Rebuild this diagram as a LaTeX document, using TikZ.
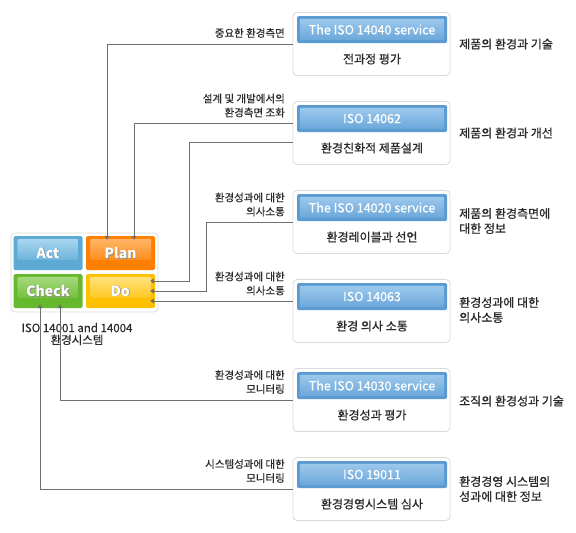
\documentclass[tikz,border=0pt]{standalone}
\usepackage{fontspec}
\setmainfont{Noto Sans CJK KR}
\newfontfamily\medfont{Noto Sans CJK KR}[FakeBold=0.8]
\newfontfamily\lightmed{Noto Sans CJK KR}[FakeBold=0.4]
\usetikzlibrary{arrows.meta,calc}
\definecolor{conn}{HTML}{707070}
\definecolor{boxline}{HTML}{DADADA}
\definecolor{barblue}{HTML}{5B9BD1}
\definecolor{bartop}{HTML}{9CC8EC}
\definecolor{barbot}{HTML}{6AA7DA}
\definecolor{txt}{HTML}{2A2A2A}
\definecolor{actc}{HTML}{5CA9D3}\definecolor{acttop}{HTML}{A9D5EE}\definecolor{actbot}{HTML}{6DB5DD}
\definecolor{planc}{HTML}{FF7F00}\definecolor{plantop}{HTML}{FFB566}\definecolor{planbot}{HTML}{FF8E1E}
\definecolor{checkc}{HTML}{66B82E}\definecolor{checktop}{HTML}{A6D97E}\definecolor{checkbot}{HTML}{74C03E}
\definecolor{doc}{HTML}{FFC000}\definecolor{dotop}{HTML}{FFE27E}\definecolor{dobot}{HTML}{FFC922}
\tikzset{
  svcbox/.style={draw=boxline,fill=white,rounded corners=4pt,minimum width=157pt,minimum height=63pt,line width=0.8pt,inner sep=0pt},
  svcbar/.style={fill=barblue,rounded corners=1.5pt,minimum width=150pt,minimum height=27pt,inner sep=0pt},
  bartext/.style={text=white,font=\lightmed\fontsize{12.5}{13}\selectfont},
  svcsub/.style={text=txt,font=\medfont\fontsize{12}{13}\selectfont},
  leftlab/.style={anchor=east,align=right,inner sep=0pt,text=txt,font=\lightmed\fontsize{10.5}{14}\selectfont},
  rightlab/.style={anchor=west,align=left,inner sep=0pt,text=txt,font=\medfont\fontsize{12}{15}\selectfont},
  pdca/.style={minimum width=69pt,minimum height=34pt,inner sep=0pt,rounded corners=1.5pt},
  pdcatext/.style={font=\bfseries\fontsize{14}{15}\selectfont},
  conn/.style={draw=conn,line width=0.9pt,-{Triangle[width=5pt,length=4pt]}},
}
\newcommand{\gloss}[3]{%
  \shade[top color=#2,bottom color=#3,rounded corners=2pt]
    ([shift={(4pt,-3pt)}]#1.north west) rectangle ([shift={(-4pt,-24pt)}]#1.north east);}
\newcommand{\barglow}[1]{%
  \shade[top color=bartop,bottom color=barbot,rounded corners=1pt]
    ([shift={(3pt,-3pt)}]#1.north west) rectangle ([shift={(-3pt,3pt)}]#1.south east);}
\begin{document}
\begin{tikzpicture}[x=1pt,y=-1pt]
\useasboundingbox (0,0) rectangle (576,533);
% right service boxes
\foreach \i/\bar/\sub in {1/{The ISO 14040 service}/{전과정 평가},
  2/{ISO 14062}/{환경친화적 제품설계},
  3/{The ISO 14020 service}/{환경레이블과 선언},
  4/{ISO 14063}/{환경 의사 소통},
  5/{The ISO 14030 service}/{환경성과 평가},
  6/{ISO 19011}/{환경경영시스템 심사}}{
  \node[svcbox] (b\i) at (371.5,{44+89*(\i-1)}) {};
  \node[svcbar] (bar\i) at (372,{44+89*(\i-1)-14.5}) {};
  \barglow{bar\i}
  \node[bartext] (bt\i) at (bar\i) {\bar};
  \node[svcsub] (s\i) at (372,{44+89*(\i-1)+15}) {\sub};
}
% right labels
\node[rightlab] (r1) at (459,44) {제품의 환경과 기술};
\node[rightlab] (r2) at (459,133) {제품의 환경과 개선};
\node[rightlab] (r3) at (459,221) {제품의 환경측면에\\대한 정보};
\node[rightlab] (r4) at (459,310) {환경성과에 대한\\의사소통};
\node[rightlab] (r5) at (459,401) {조직의 환경성과 기술};
\node[rightlab] (r6) at (459,489) {환경경영 시스템의\\성과에 대한 정보};
% left labels
\node[leftlab] (l1) at (285,33) {중요한 환경측면};
\node[leftlab] (l2) at (285,105.5) {설계 및 개발에서의\\환경측면 조화};
\node[leftlab] (l3) at (285,204.5) {환경성과에 대한\\의사소통};
\node[leftlab] (l4) at (285,283.5) {환경성과에 대한\\의사소통};
\node[leftlab] (l5) at (285,382) {환경성과에 대한\\모니터링};
\node[leftlab] (l6) at (285,471) {시스템성과에 대한\\모니터링};
% PDCA panel
\node[draw=boxline,fill=white,rounded corners=4pt,line width=0.8pt,minimum width=147pt,minimum height=79pt,inner sep=0pt] (panel) at (84.5,272.5) {};
\node[pdca,fill=actc] (act) at (48,253) {};
\node[pdca,fill=planc] (plan) at (120.5,253) {};
\node[pdca,fill=checkc] (check) at (48,291) {};
\node[pdca,fill=doc] (do) at (120.5,291) {};
\gloss{act}{acttop}{actbot}
\gloss{plan}{plantop}{planbot}
\gloss{check}{checktop}{checkbot}
\gloss{do}{dotop}{dobot}
\foreach \n/\t in {act/Act,plan/Plan,check/Check,do/Do}{
  \node[pdcatext,text=black!45] at ([shift={(0.8pt,-0.8pt)}]\n.center) {\t};
  \node[pdcatext,text=white] (\n t) at (\n.center) {\t};
}
\node[align=center,text=txt,font=\lightmed\fontsize{11.5}{12}\selectfont] (cap) at (77,334) {ISO 14001 and 14004\\환경시스템};
% connectors
\draw[conn] (b1.west) -| ([shift={(-13.5pt,-4pt)}]plan.north);
\draw[conn] ([yshift=10pt]b2.west) -| ([shift={(13.5pt,-4pt)}]plan.north);
\draw[conn] ([yshift=-9pt]b2.west) -| ([shift={(34pt,10pt)}]do.east) -- ([shift={(-5pt,10pt)}]do.east);
\draw[conn] (b3.west) -| ([shift={(51pt,0pt)}]do.east) -- ([shift={(-5pt,0pt)}]do.east);
\draw[conn] ([yshift=10pt]b4.west) -- ([shift={(-5pt,-10pt)}]do.east);
\draw[conn] (b5.west) -| ([shift={(12pt,4pt)}]check.south);
\draw[conn] (b6.west) -| ([shift={(-8pt,4pt)}]check.south);
\end{tikzpicture}
\end{document}
